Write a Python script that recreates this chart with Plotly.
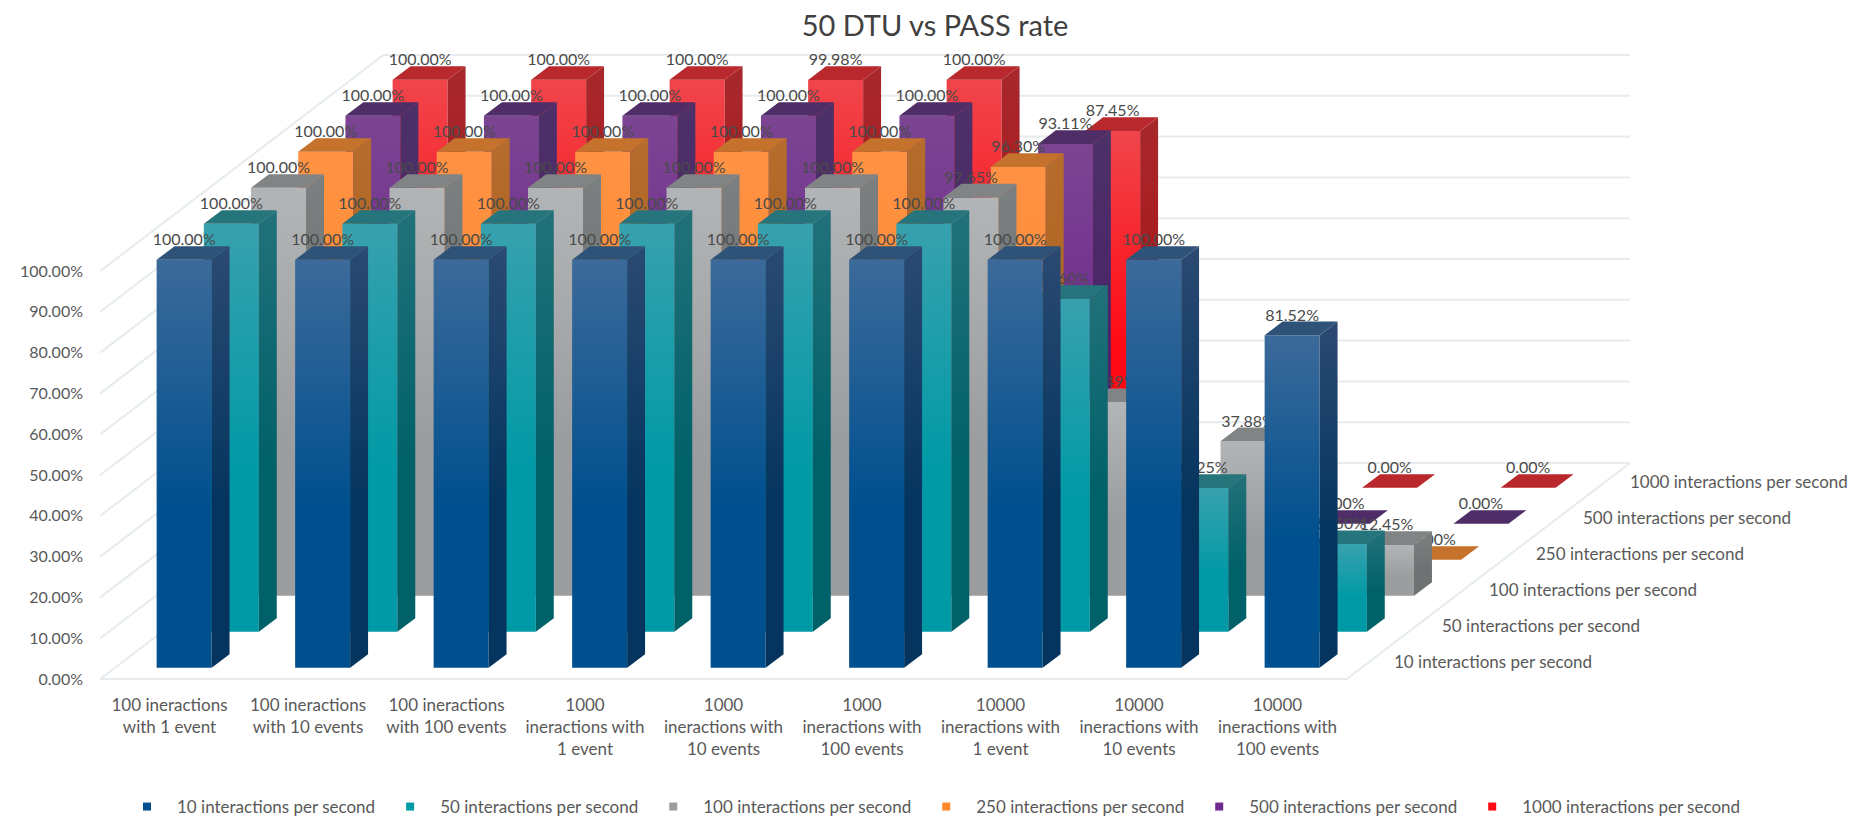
import plotly.graph_objects as go

categories = ["100 ineractions<br>with 1 event", "100 ineractions<br>with 10 events", "100 ineractions<br>with 100 events",
              "1000<br>ineractions with<br>1 event", "1000<br>ineractions with<br>10 events", "1000<br>ineractions with<br>100 events",
              "10000<br>ineractions with<br>1 event", "10000<br>ineractions with<br>10 events", "10000<br>ineractions with<br>100 events"]
series_names = ["10 interactions per second", "50 interactions per second", "100 interactions per second",
                "250 interactions per second", "500 interactions per second", "1000 interactions per second"]
v10 = [100, 100, 100, 100, 100, 100, 100, 100, 81.52]
v50 = [100, 100, 100, 100, 100, 100, 81.60, 35.25, 21.50]
v100 = [100, 100, 100, 100, 100, 97.65, 47.49, 37.88, 12.45]
v250 = [100, 100, 100, 100, 100, 96.30, 15.00, 0, 0]
v500 = [100, 100, 100, 100, 100, 93.11, 0, 0, 0]
v1000 = [100, 100, 100, 99.98, 100, 87.45, 0, 0, 0]
values = [v10, v50, v100, v250, v500, v1000]
y_ticks = [0, 10, 20, 30, 40, 50, 60, 70, 80, 90, 100]

# face colours: (front bottom, front top, side bottom, side top, top)
palette = [
    ("#00508f", "#3c6a9a", "#05355f", "#2b4a72", "#2f5278"),
    ("#009aa6", "#38a1ae", "#006169", "#22717a", "#26757c"),
    ("#9c9d9e", "#b2b5b7", "#6f7272", "#7a7f80", "#808485"),
    ("#ff8a2e", "#ff9244", "#ad6420", "#b56c2c", "#c5722d"),
    ("#6e2a8e", "#7b4592", "#4a2268", "#4d3168", "#4f2e68"),
    ("#ff0a14", "#f0454b", "#a81418", "#a8282c", "#b8282d"),
]

W, H = 1868, 822
PX_CAT, PX_PCT = 138.5, 4.08
L, R, T, B = 90, 1800, 40, 685          # plot rectangle in pixels
X0_PX, Y0_PX = 169.5, 679                # pixel of category 0 / value 0 on the front edge
DX = 47.2 / PX_CAT                        # depth shift per series, in category units
DY = 36.0 / PX_PCT                        # depth shift per series, in percent units
BAR_W = 55 / PX_CAT
BAR_D = 0.38
NS, NC = len(series_names), len(categories)
ox = (1 - BAR_D) / 2

fig = go.Figure()

# grid on walls
gx, gy = [], []
for v in y_ticks:
    gx += [-0.5, -0.5 + NS * DX, NC - 0.5 + NS * DX, None]
    gy += [v, v + NS * DY, v + NS * DY, None]
gx += [-0.5, NC - 0.5, NC - 0.5 + NS * DX, None]
gy += [0, 0, NS * DY, None]
fig.add_trace(go.Scatter(x=gx, y=gy, mode="lines", line=dict(color="#e5ebee", width=2),
                         hoverinfo="skip", showlegend=False))


def face(xs, ys, colorscale=None, color=None):
    kw = dict(x=xs, y=ys, mode="lines", fill="toself", line=dict(width=0), hoverinfo="skip", showlegend=False)
    if colorscale:
        kw["fillgradient"] = dict(type="vertical", colorscale=colorscale)
    else:
        kw["fillcolor"] = color
    return go.Scatter(**kw)


for s in range(NS - 1, -1, -1):
    fb, ft, sb, st, tp = palette[s]
    for i in range(NC):
        v = values[s][i]
        x1 = i - BAR_W / 2 + (s + ox) * DX
        x2 = x1 + BAR_W
        y1 = (s + ox) * DY
        ddx, ddy = BAR_D * DX, BAR_D * DY
        if v > 0:
            fig.add_trace(face([x1, x2, x2, x1, x1], [y1, y1, y1 + v, y1 + v, y1],
                               colorscale=[[0, fb], [0.4, fb], [1, ft]]))
            fig.add_trace(face([x2, x2 + ddx, x2 + ddx, x2, x2], [y1, y1 + ddy, y1 + ddy + v, y1 + v, y1],
                               colorscale=[[0, sb], [0.4, sb], [1, st]]))
        fig.add_trace(face([x1, x2, x2 + ddx, x1 + ddx, x1], [y1 + v, y1 + v, y1 + v + ddy, y1 + v + ddy, y1 + v], color=tp))
        fig.add_trace(go.Scatter(x=[(x1 + x2) / 2], y=[y1 + v + ddy + 5 / PX_PCT], mode="text",
                                 text=[f"{v:.2f}%"], textposition="middle center",
                                 textfont=dict(family="Lato", size=16, color="#4a4a4a"),
                                 hoverinfo="skip", showlegend=False))

# legend entries
for s in range(NS):
    fig.add_trace(go.Scatter(x=[None], y=[None], mode="markers", name=series_names[s],
                             marker=dict(symbol="square", size=8, color=palette[s][0])))

# depth-axis labels
for s in range(NS):
    fig.add_annotation(x=NC - 0.5 + (s + 0.5) * DX + 22 / PX_CAT, y=(s + 0.5) * DY,
                       text=series_names[s], showarrow=False, xanchor="left", yanchor="middle",
                       font=dict(family="Lato", size=17, color="#595959"))

fig.update_layout(
    width=W, height=H, autosize=False,
    paper_bgcolor="white", plot_bgcolor="white",
    margin=dict(l=L, r=W - R, t=T, b=H - B, pad=0, autoexpand=False),
    title=dict(text="50 DTU vs PASS rate", x=935 / W, xanchor="center", y=1 - 26 / H, yanchor="middle",
               font=dict(family="Lato", size=29, color="#404040")),
    font=dict(family="Lato", color="#595959"),
    xaxis=dict(range=[(L - X0_PX) / PX_CAT, (R - X0_PX) / PX_CAT], tickmode="array",
               tickvals=list(range(NC)), ticktext=categories, showgrid=False, zeroline=False,
               showline=False, ticks="", ticklabelstandoff=8, tickfont=dict(family="Lato", size=17, color="#595959")),
    yaxis=dict(range=[(Y0_PX - B) / PX_PCT, (Y0_PX - T) / PX_PCT], tickmode="array", tickvals=y_ticks,
               ticktext=[f"{v:.2f}%" for v in y_ticks], showgrid=False, zeroline=False, showline=False,
               ticks="", ticklabelstandoff=6, tickfont=dict(family="Lato", size=16, color="#595959")),
    legend=dict(orientation="h", xref="container", yref="container", x=117 / W, xanchor="left",
                y=1 - 807 / H, yanchor="middle", itemwidth=50,
                font=dict(family="Lato", size=17, color="#595959"), bgcolor="rgba(0,0,0,0)", itemclick=False),
)
fig.write_html("out.html", config={"displayModeBar": False}, post_script="document.body.style.margin='0';")
